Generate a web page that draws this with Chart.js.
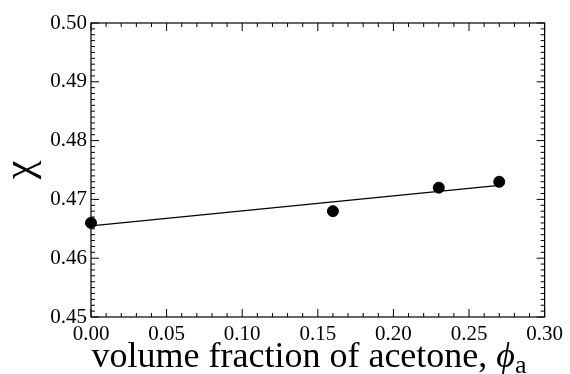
<!DOCTYPE html>
<html>
<head>
<meta charset="utf-8">
<script src="https://cdn.jsdelivr.net/npm/chart.js@4/dist/chart.umd.min.js"></script>
<style>
  html, body { margin: 0; padding: 0; background: #fff; }
  #wrap { width: 570px; height: 374px; }
</style>
</head>
<body>
<div id="wrap"><canvas id="chart"></canvas></div>
<script>
// data
const acetoneFraction = [0.0, 0.16, 0.23, 0.27];
const chiValues = [0.466, 0.468, 0.472, 0.473];
const fitX = [0.0, 0.27];
const fitY = [0.4655, 0.4724];
const xTicks = [0.0, 0.05, 0.1, 0.15, 0.2, 0.25, 0.3];
const yTicks = [0.45, 0.46, 0.47, 0.48, 0.49, 0.5];

const SERIF = "'Liberation Serif', 'Times New Roman', serif";

// ticks pointing inward on all four sides, plus the frame and axis titles
const framePlugin = {
    id: 'frame',
    afterDraw(chart) {
        const { ctx, chartArea: a, scales } = chart;
        const xs = scales.x, ys = scales.y;
        ctx.save();
        ctx.strokeStyle = '#000';
        ctx.lineWidth = 1.2;
        ctx.strokeRect(a.left, a.top, a.right - a.left, a.bottom - a.top);

        ctx.lineWidth = 1;
        ctx.beginPath();
        for (let i = 0; i <= 30; i++) {
            const v = i / 100;
            const px = xs.getPixelForValue(v);
            const len = i % 5 === 0 ? 8 : 4;
            ctx.moveTo(px, a.bottom); ctx.lineTo(px, a.bottom - len);
            ctx.moveTo(px, a.top); ctx.lineTo(px, a.top + len);
        }
        for (let i = 0; i <= 50; i++) {
            const v = 0.45 + i / 1000;
            const py = ys.getPixelForValue(v);
            const len = i % 10 === 0 ? 8 : 4;
            ctx.moveTo(a.left, py); ctx.lineTo(a.left + len, py);
            ctx.moveTo(a.right, py); ctx.lineTo(a.right - len, py);
        }
        ctx.stroke();

        // x axis title
        ctx.fillStyle = '#000';
        ctx.textBaseline = 'alphabetic';
        ctx.textAlign = 'left';
        const main = 'volume fraction of acetone, ';
        ctx.font = '36px ' + SERIF;
        const w1 = ctx.measureText(main).width;
        ctx.font = 'italic 36px ' + SERIF;
        const w2 = ctx.measureText('\u03D5').width;
        ctx.font = '26px ' + SERIF;
        const w3 = ctx.measureText('a').width;
        let x0 = 309 - (w1 + w2 + w3) / 2;
        const base = 367;
        ctx.font = '36px ' + SERIF;
        ctx.fillText(main, x0, base);
        ctx.font = 'italic 36px ' + SERIF;
        ctx.fillText('\u03D5', x0 + w1, base);
        ctx.font = '26px ' + SERIF;
        ctx.fillText('a', x0 + w1 + w2, base + 6);

        // y axis title
        ctx.translate(21, (a.top + a.bottom) / 2);
        ctx.rotate(-Math.PI / 2);
        ctx.textAlign = 'center';
        ctx.textBaseline = 'middle';
        ctx.font = '42px ' + SERIF;
        ctx.fillText('\u03C7', 0, 0);
        ctx.restore();
    }
};

const ctx = document.getElementById('chart').getContext('2d');
new Chart(ctx, {
    type: 'scatter',
    data: {
        datasets: [
            {
                label: 'fit',
                type: 'line',
                data: fitX.map((x, i) => ({ x, y: fitY[i] })),
                borderColor: '#000',
                borderWidth: 1.3,
                pointRadius: 0,
                fill: false,
            },
            {
                label: 'chi',
                data: acetoneFraction.map((x, i) => ({ x, y: chiValues[i] })),
                backgroundColor: '#000',
                borderColor: '#000',
                pointRadius: 5.5,
                clip: false,
            },
        ],
    },
    options: {
        responsive: true,
        maintainAspectRatio: false,
        animation: false,
        layout: { padding: { top: 23, right: 22, left: 0, bottom: 0 } },
        plugins: { legend: { display: false }, tooltip: { enabled: false } },
        scales: {
            x: {
                type: 'linear',
                min: 0, max: 0.3,
                afterBuildTicks: (s) => { s.ticks = xTicks.map((v) => ({ value: v })); },
                afterFit: (s) => { s.height = 57; },
                grid: { display: false, drawTicks: false },
                border: { display: false },
                ticks: {
                    color: '#000',
                    padding: 7,
                    maxRotation: 0,
                    font: { family: SERIF, size: 21, lineHeight: 1 },
                    callback: (v) => Number(v).toFixed(2),
                },
            },
            y: {
                type: 'linear',
                min: 0.45, max: 0.5,
                afterBuildTicks: (s) => { s.ticks = yTicks.map((v) => ({ value: v })); },
                afterFit: (s) => { s.width = 91; },
                grid: { display: false, drawTicks: false },
                border: { display: false },
                ticks: {
                    color: '#000',
                    padding: 4,
                    font: { family: SERIF, size: 21, lineHeight: 1 },
                    callback: (v) => Number(v).toFixed(2),
                },
            },
        },
    },
    plugins: [framePlugin],
});
</script>
</body>
</html>
